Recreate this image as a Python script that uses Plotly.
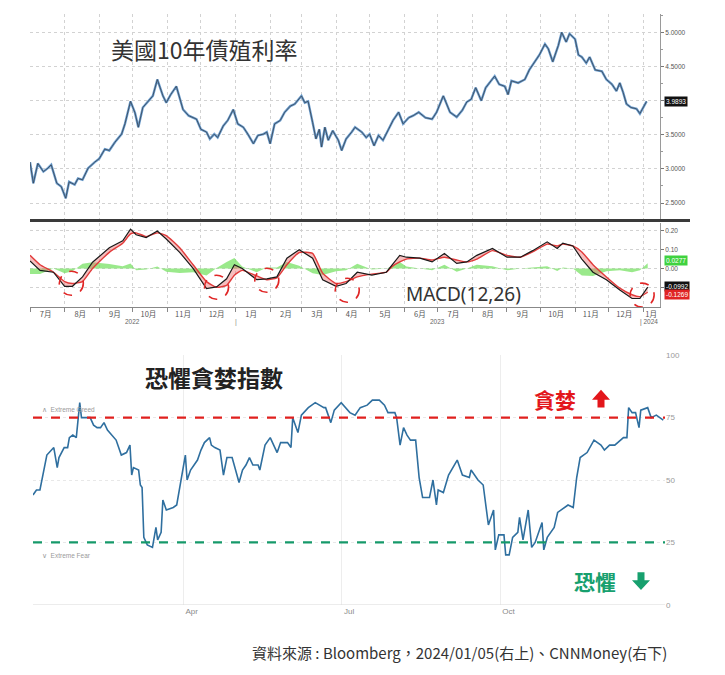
import plotly.graph_objects as go

# ---- US 10Y yield (top panel) ----
yield_dates = [
    "2022-07-01", "2022-07-04", "2022-07-08", "2022-07-13", "2022-07-17", "2022-07-20", "2022-07-25", "2022-07-29",
    "2022-08-02", "2022-08-05", "2022-08-10", "2022-08-13", "2022-08-17", "2022-08-22", "2022-08-28",
    "2022-09-01", "2022-09-06", "2022-09-10", "2022-09-15", "2022-09-21", "2022-09-24", "2022-09-29",
    "2022-10-03", "2022-10-06", "2022-10-10", "2022-10-14", "2022-10-19", "2022-10-23", "2022-10-28", "2022-10-31",
    "2022-11-04", "2022-11-09", "2022-11-12", "2022-11-15", "2022-11-20", "2022-11-24", "2022-11-27",
    "2022-12-01", "2022-12-06", "2022-12-09", "2022-12-13", "2022-12-16", "2022-12-21", "2022-12-25", "2022-12-30",
    "2023-01-03", "2023-01-08", "2023-01-12", "2023-01-17", "2023-01-21", "2023-01-26", "2023-01-29",
    "2023-02-01", "2023-02-05", "2023-02-10", "2023-02-14", "2023-02-19", "2023-02-23",
    "2023-03-01", "2023-03-04", "2023-03-07", "2023-03-11", "2023-03-14", "2023-03-17", "2023-03-19",
    "2023-03-22", "2023-03-25", "2023-03-29",
    "2023-04-03", "2023-04-06", "2023-04-10", "2023-04-15", "2023-04-18", "2023-04-24", "2023-04-28",
    "2023-05-01", "2023-05-05", "2023-05-09", "2023-05-13", "2023-05-18", "2023-05-22", "2023-05-27", "2023-05-31",
    "2023-06-05", "2023-06-09", "2023-06-14", "2023-06-20", "2023-06-26", "2023-06-30",
    "2023-07-06", "2023-07-12", "2023-07-18", "2023-07-23", "2023-07-27", "2023-07-31",
    "2023-08-04", "2023-08-09", "2023-08-13", "2023-08-18", "2023-08-21", "2023-08-25", "2023-08-30",
    "2023-09-02", "2023-09-05", "2023-09-11", "2023-09-17", "2023-09-21", "2023-09-26", "2023-09-30",
    "2023-10-05", "2023-10-08", "2023-10-12", "2023-10-17", "2023-10-20", "2023-10-24", "2023-10-27",
    "2023-11-01", "2023-11-04", "2023-11-07", "2023-11-11", "2023-11-14", "2023-11-19", "2023-11-25", "2023-11-29",
    "2023-12-04", "2023-12-08", "2023-12-11", "2023-12-14", "2023-12-17", "2023-12-21", "2023-12-26", "2023-12-29",
    "2024-01-01", "2024-01-04",
]
yield_vals = [
    3.10, 2.79, 3.08, 2.96, 3.01, 3.06, 2.79, 2.74,
    2.57, 2.81, 2.77, 2.86, 2.84, 3.01, 3.10,
    3.15, 3.29, 3.27, 3.39, 3.51, 3.66, 3.99,
    3.82, 3.61, 3.90, 3.97, 4.07, 4.31, 4.07, 3.97,
    4.09, 4.21, 4.02, 3.87, 3.78, 3.75, 3.73,
    3.58, 3.54, 3.44, 3.51, 3.46, 3.63, 3.71, 3.87,
    3.66, 3.61, 3.51, 3.37, 3.49, 3.51, 3.54,
    3.37, 3.66, 3.71, 3.83, 3.92, 3.95,
    4.07, 3.97, 3.99, 3.68, 3.44, 3.58, 3.32,
    3.61, 3.42, 3.56,
    3.42, 3.27, 3.44, 3.54, 3.61, 3.54, 3.46,
    3.51, 3.34, 3.49, 3.42, 3.58, 3.71, 3.83, 3.66,
    3.75, 3.78, 3.83, 3.75, 3.73, 3.83,
    4.07, 3.83, 3.76, 3.86, 3.98, 4.02,
    4.19, 4.00, 4.19, 4.29, 4.36, 4.24, 4.21,
    4.09, 4.29, 4.26, 4.31, 4.45, 4.57, 4.67,
    4.83, 4.76, 4.57, 4.81, 5.00, 4.86, 4.98,
    4.90, 4.67, 4.64, 4.55, 4.64, 4.45, 4.43, 4.31,
    4.24, 4.14, 4.26, 4.12, 3.95, 3.90, 3.88, 3.81,
    3.90, 3.9893,
]
yield_ticks = [2.5, 3.0, 3.5, 4.0, 4.5, 5.0]

# ---- MACD(12,26) panel ----
macd_dates = [
    "2022-07-01", "2022-07-10", "2022-07-22", "2022-08-01", "2022-08-08", "2022-08-17", "2022-08-26",
    "2022-09-10", "2022-09-22", "2022-09-29", "2022-10-04", "2022-10-13", "2022-10-23", "2022-10-31",
    "2022-11-12", "2022-11-24", "2022-12-06", "2022-12-15", "2022-12-24", "2022-12-31",
    "2023-01-07", "2023-01-20", "2023-01-29", "2023-02-07", "2023-02-16", "2023-02-27", "2023-03-11",
    "2023-03-20", "2023-04-01", "2023-04-10", "2023-04-20", "2023-05-03", "2023-05-16", "2023-05-21",
    "2023-05-28", "2023-06-03", "2023-06-15", "2023-06-26", "2023-07-07", "2023-07-18", "2023-07-27",
    "2023-08-05", "2023-08-19", "2023-09-01", "2023-09-13", "2023-09-24", "2023-10-07", "2023-10-16",
    "2023-10-21", "2023-10-30", "2023-11-07", "2023-11-17", "2023-11-29", "2023-12-11", "2023-12-22",
    "2023-12-29", "2024-01-05",
]
macd_line = [
    0.04, -0.01, -0.02, -0.095, -0.095, -0.045, 0.033, 0.11, 0.147, 0.21,
    0.18, 0.165, 0.20, 0.157, 0.086, 0.0, -0.107, -0.098, -0.055, 0.02,
    0.0, -0.06, -0.055, -0.045, 0.055, 0.10, 0.055, -0.06, -0.095, -0.08,
    -0.02, -0.035, -0.02, 0.02, 0.07, 0.06, 0.055, 0.035, 0.08, 0.027,
    0.035, 0.07, 0.107, 0.06, 0.06, 0.095, 0.142, 0.107, 0.135, 0.12,
    0.05, -0.02, -0.06, -0.115, -0.16, -0.16, -0.0992,
]
signal_line = [
    0.07, 0.02, -0.02, -0.07, -0.08, -0.07, 0.0, 0.086, 0.135, 0.184,
    0.19, 0.17, 0.19, 0.175, 0.11, 0.02, -0.07, -0.10, -0.09, -0.036,
    -0.01, -0.04, -0.06, -0.05, 0.02, 0.085, 0.08, -0.025, -0.08, -0.07,
    -0.045, -0.03, -0.02, 0.01, 0.035, 0.05, 0.055, 0.045, 0.06, 0.045,
    0.035, 0.05, 0.095, 0.07, 0.06, 0.088, 0.13, 0.12, 0.13, 0.12,
    0.088, 0.02, -0.045, -0.105, -0.14, -0.15, -0.1269,
]
hist_line = [m - s for m, s in zip(macd_line, signal_line)]

month_ticks = ["2022-07-15", "2022-08-15", "2022-09-15", "2022-10-15", "2022-11-15", "2022-12-15",
               "2023-01-15", "2023-02-15", "2023-03-15", "2023-04-15", "2023-05-15", "2023-06-15",
               "2023-07-15", "2023-08-15", "2023-09-15", "2023-10-15", "2023-11-15", "2023-12-15",
               "2024-01-08"]
month_labels = ["7月", "8月", "9月", "10月", "11月", "12月", "1月", "2月", "3月", "4月", "5月", "6月",
                "7月", "8月", "9月", "10月", "11月", "12月", "1月"]

# red dashed circles marking MACD lows
circle_dates = ["2022-08-07", "2022-12-15", "2023-01-29", "2023-04-11", "2023-12-31"]
circle_vals = [-0.079, -0.10, -0.063, -0.116, -0.142]

# ---- CNN Fear & Greed index (bottom panel) ----
fg_dates = [
    "2023-01-04", "2023-01-06", "2023-01-08", "2023-01-12", "2023-01-16", "2023-01-18", "2023-01-19", "2023-01-22",
    "2023-01-24", "2023-01-25", "2023-01-27", "2023-01-29", "2023-01-31", "2023-02-01", "2023-02-06", "2023-02-08",
    "2023-02-10", "2023-02-12", "2023-02-14", "2023-02-16", "2023-02-21", "2023-02-24", "2023-02-27", "2023-03-01",
    "2023-03-02", "2023-03-03", "2023-03-06", "2023-03-07", "2023-03-08", "2023-03-09", "2023-03-11", "2023-03-14",
    "2023-03-16", "2023-03-17", "2023-03-19", "2023-03-20", "2023-03-22", "2023-03-26", "2023-03-28", "2023-04-02",
    "2023-04-03", "2023-04-05", "2023-04-09", "2023-04-11", "2023-04-13", "2023-04-16", "2023-04-17", "2023-04-19",
    "2023-04-22", "2023-04-24", "2023-04-26", "2023-04-29", "2023-05-03", "2023-05-05", "2023-05-07", "2023-05-09",
    "2023-05-11", "2023-05-14", "2023-05-15", "2023-05-18", "2023-05-21", "2023-05-25", "2023-05-27", "2023-05-31",
    "2023-06-02", "2023-06-03", "2023-06-06", "2023-06-08", "2023-06-12", "2023-06-16", "2023-06-21", "2023-06-22",
    "2023-06-25", "2023-06-27", "2023-07-01", "2023-07-06", "2023-07-09", "2023-07-12", "2023-07-16", "2023-07-19",
    "2023-07-23", "2023-07-26", "2023-07-28", "2023-08-01", "2023-08-02", "2023-08-04", "2023-08-06", "2023-08-08",
    "2023-08-10", "2023-08-13", "2023-08-15", "2023-08-17", "2023-08-21", "2023-08-23", "2023-08-25", "2023-08-26",
    "2023-08-29", "2023-09-01", "2023-09-06", "2023-09-09", "2023-09-13", "2023-09-14", "2023-09-18", "2023-09-21",
    "2023-09-24", "2023-09-27", "2023-09-28", "2023-09-30", "2023-10-03", "2023-10-04", "2023-10-06", "2023-10-08",
    "2023-10-11", "2023-10-12", "2023-10-14", "2023-10-17", "2023-10-19", "2023-10-21", "2023-10-25", "2023-10-26",
    "2023-10-28", "2023-11-01", "2023-11-03", "2023-11-09", "2023-11-12", "2023-11-14", "2023-11-16", "2023-11-20",
    "2023-11-24", "2023-11-28", "2023-11-30", "2023-12-03", "2023-12-06", "2023-12-11", "2023-12-13", "2023-12-14",
    "2023-12-16", "2023-12-18", "2023-12-20", "2023-12-21", "2023-12-25", "2023-12-27", "2023-12-30", "2024-01-01",
    "2024-01-03",
]
fg_vals = [
    44, 46, 46, 60, 63, 55, 59, 63, 63, 67,
    68, 67, 81, 75, 75, 72, 71, 71, 73, 70,
    66, 60, 61, 64, 52, 55, 54, 48, 47, 27,
    24, 23, 31, 26, 29, 42, 38, 39, 40, 60,
    50, 54, 58, 62, 65, 67, 64, 63, 62, 52,
    59, 59, 49, 54, 56, 59, 56, 56, 54, 64,
    67, 61, 65, 65, 63, 75, 69, 76, 79, 81,
    79, 79, 73, 78, 81, 77, 76, 79, 80, 82,
    82, 80, 77, 77, 75, 64, 71, 68, 66, 66,
    51, 43, 43, 50, 40, 46, 45, 52, 58, 52,
    51, 54, 50, 48, 32, 38, 22, 28, 28, 20,
    20, 27, 29, 35, 26, 38, 23, 25, 33, 22,
    27, 31, 37, 40, 39, 51, 59, 61, 66, 64,
    62, 64, 64, 67, 67, 79, 77, 77, 71, 78,
    79, 75, 76, 75, 74,
]
fg_ticks = ["2023-04-01", "2023-07-01", "2023-10-01"]
fg_tick_labels = ["Apr", "Jul", "Oct"]
greed_level = 75
fear_level = 25

# page has an 8px body margin, so the figure is sized to fit inside the window
PAD = 8
W, H = 725 - 2 * PAD, 675 - 2 * PAD


def px(x):
    return (x - PAD) / W


def py(y):
    return 1 - (y - PAD) / H


CJK = "Noto Sans CJK TC, Noto Sans, sans-serif"
TICKF = "Liberation Sans, Arial, sans-serif"
GRID = "#d2d2d2"
RED = "#e3161b"
GREEN = "#17a06e"

fig = go.Figure()

# top: yield, drawn twice to get the blue/dark bar look
fig.add_trace(go.Scatter(x=yield_dates, y=yield_vals, mode="lines",
                         line=dict(color="#6d9fd0", width=2.4), xaxis="x", yaxis="y", hoverinfo="skip"))
fig.add_trace(go.Scatter(x=yield_dates, y=yield_vals, mode="lines",
                         line=dict(color="#3c4c5e", width=0.9), xaxis="x", yaxis="y"))

# MACD: histogram, signal, macd (filled to signal)
fig.add_trace(go.Scatter(x=macd_dates, y=hist_line, mode="lines", fill="tozeroy",
                         line=dict(width=0, color="rgba(110,220,90,0.8)"),
                         fillcolor="rgba(120,225,100,0.75)", xaxis="x2", yaxis="y2"))
fig.add_trace(go.Scatter(x=macd_dates, y=signal_line, mode="lines",
                         line=dict(color="#e23b3b", width=1.4, shape="spline", smoothing=0.5),
                         xaxis="x2", yaxis="y2"))
fig.add_trace(go.Scatter(x=macd_dates, y=macd_line, mode="lines", fill="tonexty",
                         fillcolor="rgba(235,110,110,0.45)",
                         line=dict(color="#1a1a1a", width=1.2), xaxis="x2", yaxis="y2"))

# fear & greed
fig.add_trace(go.Scatter(x=fg_dates, y=fg_vals, mode="lines",
                         line=dict(color="#2f6f9f", width=1.6), xaxis="x3", yaxis="y3"))

x_range = ["2022-07-01", "2024-01-16"]


def block_arrow(cx, top, color, up=True):
    # block arrow 18px wide, 18px tall, drawn as a path in paper coordinates
    head, shaft_w, half, h = 10, 3.5, 9, 18
    if up:
        pts = [(cx, top), (cx + half, top + head), (cx + shaft_w, top + head), (cx + shaft_w, top + h),
               (cx - shaft_w, top + h), (cx - shaft_w, top + head), (cx - half, top + head)]
    else:
        pts = [(cx, top + h), (cx + half, top + h - head), (cx + shaft_w, top + h - head), (cx + shaft_w, top),
               (cx - shaft_w, top), (cx - shaft_w, top + h - head), (cx - half, top + h - head)]
    path = "M " + " L ".join("%.5f,%.5f" % (px(a), py(b)) for a, b in pts) + " Z"
    return dict(type="path", xref="paper", yref="paper", path=path, fillcolor=color, line=dict(width=0))


shapes = [
    # thick divider between price and MACD
    dict(type="line", xref="paper", yref="paper", x0=px(30), x1=px(690), y0=py(219.5), y1=py(219.5),
         line=dict(color="#3a3a3a", width=3)),
    # fear & greed reference lines
    dict(type="line", xref="x3 domain", yref="y3", x0=0, x1=1, y0=greed_level, y1=greed_level,
         line=dict(color="#e0201e", width=2.2, dash="dash")),
    dict(type="line", xref="x3 domain", yref="y3", x0=0, x1=1, y0=fear_level, y1=fear_level,
         line=dict(color="#16996a", width=2.2, dash="dash")),
    dict(type="line", xref="x3 domain", yref="y3", x0=0, x1=1, y0=0, y1=0,
         line=dict(color="#dcdcdc", width=1)),
    block_arrow(601, 391, RED, up=True),
    block_arrow(641, 576, GREEN, up=False),
]
for d, v in zip(circle_dates, circle_vals):
    shapes.append(dict(type="circle", xref="x2", yref="y2", xsizemode="pixel", ysizemode="pixel",
                       xanchor=d, yanchor=v, x0=-12, x1=12, y0=-12, y1=12,
                       line=dict(color="#e02626", width=1.6, dash="dash")))


def note(text, x, y, size, color, family=CJK, anchor="center"):
    return dict(text=text, xref="paper", yref="paper", x=px(x), y=py(y), xanchor=anchor, yanchor="middle",
                showarrow=False, font=dict(family=family, size=size, color=color))


annotations = [
    note("美國10年債殖利率", 204, 46, 23, "#333333"),
    note("MACD(12,26)", 463, 294, 19, "#333333", family="Noto Sans, sans-serif"),
    note("<b>恐懼貪婪指數</b>", 214, 378, 23, "#222222"),
    note("<b>貪婪</b>", 555, 400, 21, RED),
    note("<b>恐懼</b>", 595, 585, 21, GREEN),
    note("∧  Extreme Greed", 40, 411, 6.5, "#9a9a9a", family=TICKF, anchor="left"),
    note("∨  Extreme Fear", 40, 559, 6.5, "#9a9a9a", family=TICKF, anchor="left"),
    note("資料來源 : Bloomberg，2024/01/05(右上)、CNNMoney(右下)", 669, 657, 15, "#333333", anchor="right"),
    # last-value boxes
    dict(text="3.9893", xref="x domain", yref="y", x=1, y=yield_vals[-1], xanchor="left", xshift=4,
         showarrow=False, bgcolor="#111111", borderpad=1, font=dict(family=TICKF, size=6.5, color="white")),
    dict(text="%.4f" % hist_line[-1], xref="x2 domain", yref="y2", x=1, y=hist_line[-1], xanchor="left",
         xshift=4, yshift=3, showarrow=False, bgcolor="#3fd23f", borderpad=1,
         font=dict(family=TICKF, size=6.5, color="white")),
    dict(text="%.4f" % macd_line[-1], xref="x2 domain", yref="y2", x=1, y=macd_line[-1], xanchor="left",
         xshift=4, yshift=1, showarrow=False, bgcolor="#111111", borderpad=1,
         font=dict(family=TICKF, size=6.5, color="white")),
    dict(text="%.4f" % signal_line[-1], xref="x2 domain", yref="y2", x=1, y=signal_line[-1], xanchor="left",
         xshift=4, yshift=-2, showarrow=False, bgcolor="#e02424", borderpad=1,
         font=dict(family=TICKF, size=6.5, color="white")),
    # year labels under the month axis
    dict(text="2022", xref="x2", yref="paper", x="2022-10-01", y=py(322), showarrow=False,
         font=dict(family=TICKF, size=6.5, color="#666666")),
    dict(text="|", xref="x2", yref="paper", x="2023-01-01", y=py(322), showarrow=False,
         font=dict(family=TICKF, size=7, color="#888888")),
    dict(text="2023", xref="x2", yref="paper", x="2023-07-01", y=py(322), showarrow=False,
         font=dict(family=TICKF, size=6.5, color="#666666")),
    dict(text="| 2024", xref="x2", yref="paper", x="2024-01-06", y=py(322), showarrow=False,
         font=dict(family=TICKF, size=6.5, color="#666666")),
]

fig.update_layout(
    width=W, height=H, autosize=False,
    margin=dict(l=0, r=0, t=0, b=0),
    paper_bgcolor="white", plot_bgcolor="white",
    showlegend=False,
    font=dict(family=CJK),
    shapes=shapes,
    annotations=annotations,
    xaxis=dict(domain=[px(30), px(660)], anchor="y", type="date", range=x_range,
               showticklabels=False, ticks="", tick0="2022-07-01", dtick="M1",
               showgrid=True, gridcolor=GRID, griddash="dot", zeroline=False, showline=False),
    yaxis=dict(domain=[py(218), py(10)], anchor="x", side="right", range=[2.264, 5.270],
               tickvals=yield_ticks, ticktext=["%.4f" % t for t in yield_ticks],
               ticks="outside", ticklen=3, tickcolor="#777777",
               minor=dict(ticks="outside", ticklen=2, dtick=0.25, tick0=2.5, tickcolor="#999999"),
               tickfont=dict(family=TICKF, size=6.5, color="#555555"),
               showgrid=True, gridcolor=GRID, griddash="dot", zeroline=False,
               showline=True, linecolor="#9a9a9a", linewidth=1),
    xaxis2=dict(domain=[px(30), px(660)], anchor="y2", type="date", range=x_range,
                tickvals=month_ticks, ticktext=month_labels, ticks="", showgrid=False,
                tickfont=dict(family=CJK, size=7.5, color="#555555"),
                minor=dict(ticks="outside", ticklen=4, tickcolor="#888888", dtick="M1", tick0="2022-07-01",
                           showgrid=True, gridcolor=GRID, griddash="dot"),
                showline=True, linecolor="#888888", linewidth=1, zeroline=False),
    yaxis2=dict(domain=[py(307), py(222)], anchor="x2", side="right", range=[-0.205, 0.242],
                tickvals=[-0.1, 0.0, 0.1, 0.2], ticktext=["", "0.00", "0.10", "0.20"],
                ticks="outside", ticklen=3, tickcolor="#777777",
                tickfont=dict(family=TICKF, size=6.5, color="#555555"),
                showgrid=True, gridcolor=GRID, griddash="dot", zeroline=False,
                showline=True, linecolor="#9a9a9a", linewidth=1),
    xaxis3=dict(domain=[px(33), px(665)], anchor="y3", type="date", range=["2023-01-04", "2024-01-04"],
                tickvals=fg_ticks, ticktext=fg_tick_labels, ticks="", ticklabelshift=8,
                tickfont=dict(family=TICKF, size=8, color="#8a8a8a"),
                showgrid=True, gridcolor="#ededed", zeroline=False, showline=False),
    yaxis3=dict(domain=[py(609), py(356)], anchor="x3", side="right", range=[0, 100],
                tickvals=[0, 25, 50, 75, 100], ticks="",
                tickfont=dict(family=TICKF, size=8, color="#9a9a9a"),
                showgrid=True, gridcolor="#e8e8e8", griddash="dot", zeroline=False, showline=False),
)

fig.write_html("out.html")
